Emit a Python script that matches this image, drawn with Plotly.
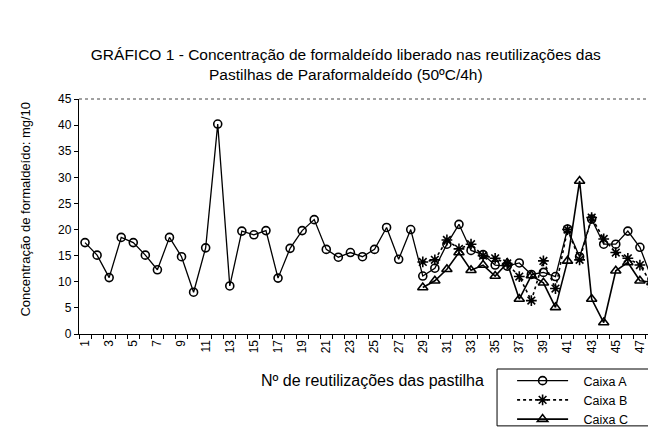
import plotly.graph_objects as go

reuse = list(range(1, 49))
reuse_bc = list(range(29, 49))

caixa_a = [17.5, 15.1, 10.8, 18.5, 17.5, 15.1, 12.3, 18.5, 14.8, 8.0,
           16.5, 40.2, 9.2, 19.7, 19.0, 19.8, 10.7, 16.4, 19.8, 21.9,
           16.2, 14.7, 15.6, 14.8, 16.2, 20.4, 14.3, 20.0, 11.1, 12.6,
           17.2, 21.0, 16.0, 15.2, 13.2, 13.0, 13.6, 11.4, 11.8, 11.0,
           20.1, 14.8, 22.0, 17.2, 17.2, 19.7, 16.6, 10.5]
caixa_b = [13.8, 14.2, 18.0, 16.3, 17.2, 15.0, 14.5, 13.5, 11.0, 6.4,
           14.0, 8.7, 20.0, 14.2, 22.3, 18.2, 15.6, 14.5, 13.2, 9.5]
caixa_c = [8.9, 10.2, 12.4, 15.6, 12.2, 13.2, 11.1, 13.6, 6.7, 11.2,
           9.8, 5.1, 14.0, 29.3, 6.7, 2.2, 12.1, 13.7, 10.2, 9.9]

xticks = list(range(1, 48, 2))
yticks = list(range(0, 46, 5))

pad = "\u00a0\u00a0\u00a0"
fig = go.Figure()
fig.add_trace(go.Scatter(x=reuse, y=caixa_a, name=pad + "Caixa A", mode="lines+markers",
                         line=dict(color="black", width=1.3),
                         marker=dict(symbol="circle-open", size=8, color="black",
                                     line=dict(width=1.6))))
fig.add_trace(go.Scatter(x=reuse_bc, y=caixa_b, name=pad + "Caixa B", mode="lines+markers",
                         line=dict(color="black", width=1.6, dash="dot"),
                         marker=dict(symbol="asterisk-open", size=9, color="black",
                                     line=dict(width=1.6, color="black"))))
fig.add_trace(go.Scatter(x=reuse_bc, y=caixa_c, name=pad + "Caixa C", mode="lines+markers",
                         line=dict(color="black", width=1.6),
                         marker=dict(symbol="triangle-up-open", size=9, color="black",
                                     line=dict(width=1.6))))

font = "Liberation Sans, Arial, sans-serif"
fig.update_layout(
    width=656, height=432,
    margin=dict(l=71, r=6, t=91, b=106),
    paper_bgcolor="white", plot_bgcolor="white",
    font=dict(family=font, size=12, color="black"),
    showlegend=True,
    legend=dict(x=0.748, y=-0.1362, xanchor="left", yanchor="top",
                borderwidth=0, bgcolor="rgba(0,0,0,0)",
                font=dict(size=12.5), itemwidth=51, tracegroupgap=0),
    title=dict(text="GRÁFICO 1 - Concentração de formaldeído liberado nas reutilizações das<br>Pastilhas de Paraformaldeído (50ºC/4h)",
               x=0.515, xanchor="center", y=0.8796, yanchor="middle",
               font=dict(size=15.5, family=font)),
)
fig.update_xaxes(range=[0.5, 48.5], tickmode="array", tickvals=xticks,
                 ticktext=[str(v) for v in xticks], tickangle=-90, ticks="",
                 showline=True, linecolor="black", linewidth=1.3,
                 showgrid=False, zeroline=False, tickfont=dict(size=12),
                 minor=dict(tickmode="array", tickvals=[i + 0.5 for i in range(49)],
                            ticks="outside", ticklen=4, tickcolor="black", tickwidth=1.2,
                            showgrid=False))
fig.update_yaxes(range=[0, 45], tickmode="array", tickvals=yticks,
                 ticks="outside", ticklen=4, tickcolor="black",
                 showline=True, linecolor="black", linewidth=1.3,
                 showgrid=False, zeroline=False, tickfont=dict(size=12))

fig.add_shape(type="line", xref="paper", yref="paper", x0=0, x1=1, y0=1, y1=1,
              line=dict(color="#444", width=1, dash="dot"))
fig.add_shape(type="line", xref="paper", yref="paper", x0=1, x1=1, y0=0, y1=1,
              line=dict(color="#444", width=1, dash="dash"))
# legend frame
fig.add_shape(type="rect", xref="paper", yref="paper", x0=0.722, x1=0.999,
              y0=-0.149, y1=-0.391, line=dict(color="black", width=1))

fig.add_annotation(text="Concentração de formaldeído: mg/10", textangle=-90,
                   xref="paper", yref="paper", x=-0.093, y=0.53,
                   xanchor="center", yanchor="middle", showarrow=False,
                   font=dict(size=13))
fig.add_annotation(text="Nº de reutilizações das pastilha",
                   xref="paper", yref="paper", x=0.507, y=-0.196,
                   xanchor="center", yanchor="middle", showarrow=False,
                   font=dict(size=16))

fig.write_html("out.html")
